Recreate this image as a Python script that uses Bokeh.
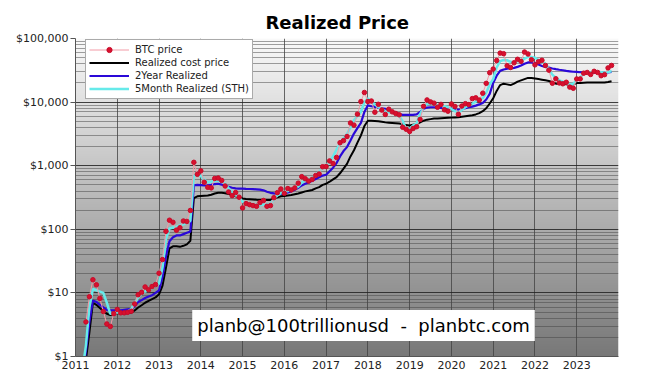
import numpy as np
from bokeh.plotting import figure
from bokeh.models import (FixedTicker, NumeralTickFormatter, Legend, LegendItem,
                          Label, LinearColorMapper, ColumnDataSource, Range1d)
from bokeh.embed import file_html
from bokeh.resources import INLINE

# ---------------- data (monthly) ----------------
years = list(range(2011, 2024))
y_ticks = [1, 10, 100, 1000, 10000, 100000]

btc_start = (2011, 4)      # first BTC price point: April 2011
line_start = (2011, 3)     # first realized-line point: March 2011

btc_price = [
    3.5, 8.7, 16.1, 13.4, 8.2, 5.1, 3.25, 2.97, 4.72,
    5.5, 4.86, 4.86, 4.95, 5.14, 6.69, 9.35, 10.2, 12.4, 11.2, 12.6, 13.5,
    20.4, 33.4, 93, 139, 129, 97, 106, 135, 133, 198, 1130, 732,
    830, 550, 457, 448, 630, 640, 587, 480, 386, 338, 378, 320,
    217, 254, 244, 236, 230, 263, 284, 230, 236, 314, 377, 430,
    368, 437, 416, 448, 531, 673, 624, 573, 609, 700, 742, 963,
    970, 1190, 1080, 1350, 2300, 2480, 2875, 4700, 4340, 6470, 10200, 14160,
    10220, 10400, 6930, 9240, 7490, 6400, 7730, 7030, 6630, 6320, 4020, 3740,
    3460, 3850, 4100, 5350, 8570, 10820, 10080, 9630, 8290, 9200, 7570, 7190,
    9350, 8540, 6440, 8660, 9450, 9140, 11350, 11680, 10780, 13800, 19700, 29000,
    33100, 45100, 58900, 57700, 37300, 35000, 41500, 47100, 43800, 61300, 57000, 46300,
    38500, 43200, 45500, 37700, 31800, 19800, 23300, 20000, 19400, 20500, 17200, 16500,
    23100, 23150, 28500, 29250, 27200, 30500, 29250, 26000, 27000, 34500, 37700,
]

realized_cost = [
    0.4, 0.9, 2.4, 7.0, 6.5, 5.8, 5.2, 4.7, 4.5, 4.7,
    4.8, 4.8, 4.8, 4.8, 4.9, 5.3, 5.9, 6.4, 7.0, 7.5, 8.0, 8.5,
    9.5, 13, 25, 50, 54, 54, 53, 55, 58, 66, 310, 330,
    335, 338, 340, 350, 365, 375, 375, 370, 360, 345, 330, 320,
    305, 300, 298, 295, 292, 290, 290, 288, 290, 305, 318, 330,
    335, 340, 345, 355, 365, 380, 395, 405, 415, 440, 460, 500,
    520, 560, 610, 660, 760, 900, 1070, 1400, 1750, 2300, 3000, 4200,
    5100, 5100, 5050, 5000, 4900, 4800, 4750, 4700, 4650, 4600, 4500, 4350,
    4300, 4400, 4500, 4800, 5100, 5300, 5400, 5500, 5500, 5550, 5600, 5650,
    5700, 5750, 5800, 5900, 6000, 6100, 6200, 6400, 6700, 7200, 8000, 9500,
    11500, 15000, 18500, 19500, 19000, 18500, 19500, 21000, 22000, 23000, 24000, 24000,
    23500, 23000, 22500, 22000, 21500, 20500, 19500, 19500, 19200, 19000, 18800, 19000,
    20000, 20000, 20200, 20300, 20300, 20300, 20400, 20400, 20400, 20700, 21300,
]

realized_2y = [
    0.5, 1.2, 3.5, 7.6, 7.2, 6.5, 5.9, 5.4, 5.3, 5.3,
    5.3, 5.3, 5.4, 5.5, 5.6, 6.2, 7.2, 7.7, 8.3, 8.8, 9.2, 10,
    11, 18, 38, 65, 75, 80, 80, 84, 88, 92, 490, 500,
    495, 490, 490, 500, 515, 520, 505, 480, 465, 450, 440, 435,
    435, 432, 430, 428, 425, 420, 410, 390, 375, 368, 362, 360,
    365, 380, 395, 420, 450, 490, 520, 545, 580, 620, 660, 700,
    720, 820, 930, 1100, 1400, 1700, 1960, 2500, 3200, 3900, 4700, 7000,
    8900, 8600, 8400, 8200, 8000, 7850, 7500, 7100, 6800, 6500, 6300, 6300,
    6300, 6300, 6400, 7000, 7850, 8200, 8300, 8300, 8200, 8100, 8000, 7850,
    7800, 7700, 7600, 7700, 8000, 8300, 8500, 8800, 9200, 9700, 11000, 13500,
    20000, 26000, 31000, 32500, 33500, 33800, 34500, 35800, 37500, 40000, 42000, 42000,
    41000, 39000, 37000, 35800, 34800, 33800, 33000, 32300, 31700, 31000, 30500, 30000,
    29900, 29500, 29200, 29000, 29000, 29000, 28900, 28800, 28800, 29200, 29900,
]

realized_5m = [
    0.6, 1.5, 6.0, 11.5, 11.0, 10.5, 10.0, 7.0, 4.7, 4.7,
    4.9, 4.9, 4.9, 5.0, 5.6, 6.8, 8.5, 9.7, 10.5, 11.0, 12.0, 13.0,
    14, 25, 70, 103, 107, 110, 115, 120, 128, 135, 700, 720,
    690, 600, 550, 560, 580, 580, 560, 520, 440, 380, 340, 320,
    270, 255, 250, 245, 242, 240, 245, 245, 250, 300, 340, 370,
    385, 400, 420, 440, 470, 540, 590, 610, 640, 720, 800, 920,
    1000, 1150, 1400, 1800, 2200, 2700, 3150, 4000, 5200, 6000, 7000, 10000,
    11500, 10000, 9200, 8300, 7800, 7200, 6900, 6800, 6600, 6000, 5000, 3800,
    3800, 4300, 4600, 6500, 8300, 9400, 9400, 9200, 8900, 8800, 8600, 8300,
    7800, 7200, 6900, 7500, 8300, 8900, 9400, 10200, 10800, 11500, 14000, 19000,
    23000, 35000, 44000, 46000, 45500, 43000, 42000, 44000, 45500, 48000, 51500, 51000,
    50000, 46000, 43000, 40000, 33000, 27000, 24000, 22000, 21000, 20000, 19000, 19500,
    22000, 24500, 28200, 29000, 29500, 29900, 30000, 29500, 29000, 29700, 30500,
]


def month_axis(start, n):
    y0, m0 = start
    return [y0 + (m0 - 1 + k) / 12.0 for k in range(n)]


btc_src = ColumnDataSource(dict(t=month_axis(btc_start, len(btc_price)), v=btc_price))
line_src = ColumnDataSource(dict(t=month_axis(line_start, len(realized_cost)),
                                 rc=realized_cost, r2=realized_2y, r5=realized_5m))

FONT = "DejaVu Sans"

p = figure(width=645, height=377, y_axis_type="log",
           x_range=Range1d(2011, 2024), y_range=Range1d(1, 100000),
           output_backend="svg", toolbar_location=None,
           min_border_left=75, min_border_right=27, min_border_top=38, min_border_bottom=21)
p.outline_line_color = None
p.background_fill_color = "white"
p.border_fill_color = "white"

p.title.text = "Realized Price"
p.title.align = "left"
p.title.offset = 190
p.title.text_font = FONT
p.title.text_font_size = "18px"
p.title.text_font_style = "bold"
p.title.text_color = "black"
p.title.standoff = 11

# gradient background (white at top to grey at bottom)
n = 256
grad = np.linspace(0.0, 1.0, n).reshape(n, 1)
lo, hi = 0x78, 0xfa
pal = []
for i in range(256):
    g = int(lo + (hi - lo) * i / 255)
    pal.append("#%02x%02x%02x" % (g, g, g))
p.image(image=[grad], x=2011, y=1, dw=13, dh=99999,
        color_mapper=LinearColorMapper(palette=pal, low=0, high=1), level="image")

# grids
p.xgrid.ticker = FixedTicker(ticks=years + [2024])
p.xgrid.grid_line_color = "#444444"
p.xgrid.grid_line_alpha = 0.8
minor = [m * d for d in [1, 10, 100, 1000, 10000] for m in range(2, 10)]
yt = FixedTicker(ticks=y_ticks, minor_ticks=minor)
p.yaxis.ticker = yt
p.ygrid.ticker = yt
p.ygrid.grid_line_color = "#222222"
p.ygrid.grid_line_alpha = 0.85
p.ygrid.minor_grid_line_color = "#444444"
p.ygrid.minor_grid_line_alpha = 0.5

# axes
p.xaxis.ticker = FixedTicker(ticks=years)
p.xaxis.formatter = NumeralTickFormatter(format="0")
p.yaxis.formatter = NumeralTickFormatter(format="$0,0")
for ax in (p.xaxis, p.yaxis):
    ax.major_label_text_font = FONT
    ax.major_label_text_font_size = "11px"
    ax.major_label_text_color = "#222222"
    ax.axis_line_color = "#555555"
    ax.major_tick_line_color = "#555555"
    ax.minor_tick_out = 0
    ax.minor_tick_in = 0
    ax.major_tick_in = 0
p.yaxis.major_tick_out = 5
p.yaxis.major_label_standoff = 2
p.xaxis.major_tick_out = 0
p.xaxis.major_label_standoff = 4

# series
r_rc = p.line("t", "rc", source=line_src, line_color="black", line_width=2)
r_2y = p.line("t", "r2", source=line_src, line_color="#2a08d8", line_width=2.2)
r_5m = p.line("t", "r5", source=line_src, line_color="#66eaea", line_width=2.5)
r_bl = p.line("t", "v", source=btc_src, line_color="#f29aa6", line_width=1)
r_bd = p.scatter("t", "v", source=btc_src, size=4.5, fill_color="#d8102e",
                 line_color="#c80c2a")

legend = Legend(items=[
    LegendItem(label="BTC price", renderers=[r_bl, r_bd]),
    LegendItem(label="Realized cost price", renderers=[r_rc]),
    LegendItem(label="2Year Realized", renderers=[r_2y]),
    LegendItem(label="5Month Realized (STH)", renderers=[r_5m]),
], location=(10, 257), margin=0, padding=3, spacing=0,
    glyph_width=40, glyph_height=13, label_height=13, label_standoff=6,
    label_text_font=FONT, label_text_font_size="10px", label_text_color="#222222",
    border_line_color="#555555", background_fill_color="white", background_fill_alpha=1)
p.add_layout(legend)

wm = Label(x=288, y=31, x_units="screen", y_units="screen",
           text="planb@100trillionusd\u00a0\u00a0-\u00a0\u00a0planbtc.com",
           text_font=FONT, text_font_size="18px", text_color="black",
           text_align="center", text_baseline="middle",
           background_fill_color="white", background_fill_alpha=1, padding=5)
p.add_layout(wm)

open("out.html", "w").write(file_html(p, INLINE))
